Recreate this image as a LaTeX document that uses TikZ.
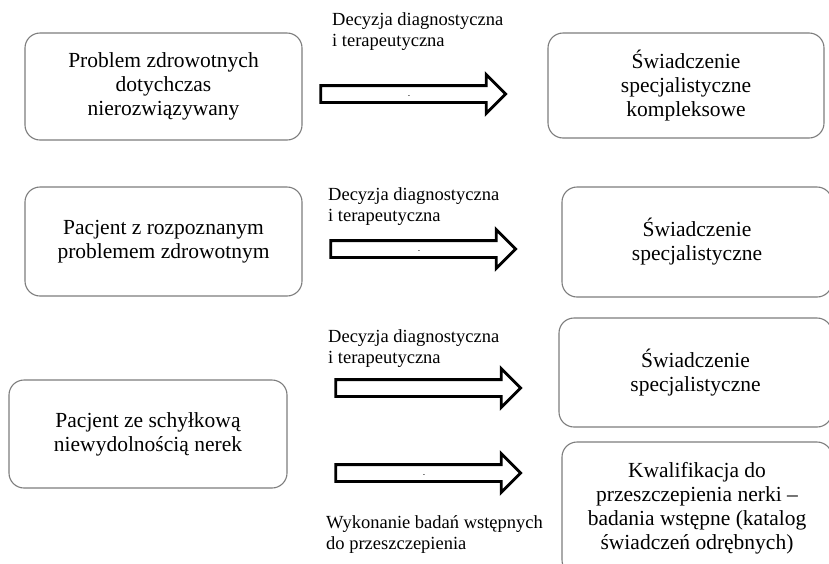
\documentclass[tikz,border=0pt]{standalone}
\usepackage{fontspec}
\setmainfont{Liberation Serif}
\usepackage{tikz}
\usetikzlibrary{shapes.arrows,positioning}
\definecolor{boxgray}{RGB}{125,125,125}
\tikzset{
	box/.style    = {rectangle,rounded corners=15pt,draw=boxgray,
		line width=1.1pt,fill=white,align=center,inner sep=0pt,
		font=\fontsize{21.5}{24}\selectfont},
	blockarr/.style = {single arrow,draw=black,fill=white,
		line width=2.8pt,inner sep=0pt,text height=7pt,
		text depth=7pt,minimum height=185pt,
		single arrow head extend=11pt,single arrow head indent=0pt,
		font=\scriptsize},
	lab/.style    = {anchor=north west,align=left,inner sep=0pt,
		font=\fontsize{18.5}{21}\selectfont},
}

\begin{document}
\begin{tikzpicture}[x=1pt,y=-1pt]
		\clip (0,0) rectangle (829,563);
		
		%% Wiersz 1
		\node (prob) [box,minimum width=277pt,minimum height=107pt]
		at (163.5,86.5) {Problem zdrowotnych\\dotychczas\\nierozwiązywany};
		\node (kompl)[box,minimum width=276pt,minimum height=105pt]
		at (686,85.5) {Świadczenie\\specjalistyczne\\kompleksowe};
		\node (arr1) [blockarr] at (409,94) {\raisebox{-3pt}{-}};
		\node (lab1) [lab] at (332,12) {Decyzja diagnostyczna\\i terapeutyczna};
		
		%% Wiersz 2
		\node (pacj) [box,minimum width=277pt,minimum height=109pt]
		at (163.5,241.5) {Pacjent z rozpoznanym\\problemem zdrowotnym};
		\node (spec1)[box,minimum width=270pt,minimum height=110pt]
		at (697,242) {Świadczenie\\specjalistyczne};
		\node (arr2) [blockarr] at (419,249) {\raisebox{-3pt}{-}};
		\node (lab2) [lab] at (328,187) {Decyzja diagnostyczna\\i terapeutyczna};
		
		%% Wiersz 3
		\node (nerki)[box,minimum width=278pt,minimum height=108pt]
		at (148,434) {Pacjent ze schyłkową\\niewydolnością nerek};
		\node (spec2)[box,minimum width=273pt,minimum height=109pt]
		at (695.5,372.5) {Świadczenie\\specjalistyczne};
		\node (kwal) [box,minimum width=270pt,minimum height=133pt]
		at (697,508.5) {Kwalifikacja do\\przeszczepienia nerki --\\badania wstępne (katalog\\świadczeń odrębnych)};
		\node (arr3) [blockarr] at (424,388) {};
		\node (arr4) [blockarr] at (424,473) {\raisebox{-3pt}{-}};
		\node (lab3) [lab] at (328,329) {Decyzja diagnostyczna\\i terapeutyczna};
		\node (lab4) [lab] at (326,515) {Wykonanie badań wstępnych\\do przeszczepienia};
	\end{tikzpicture}
\end{document}
